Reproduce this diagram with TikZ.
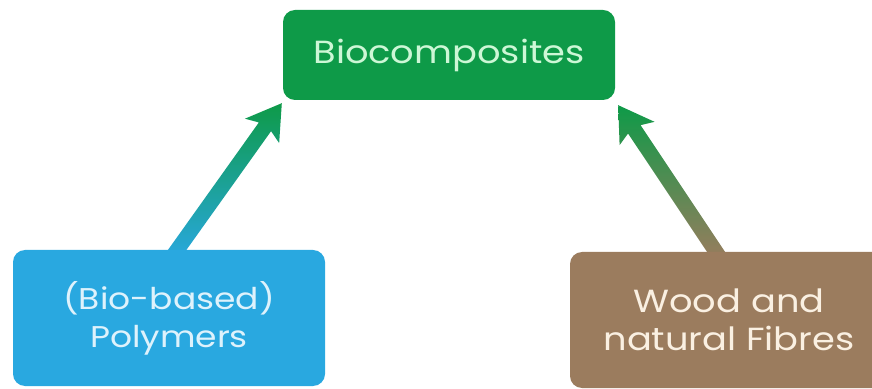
\documentclass[tikz,border=0pt]{standalone}
\usepackage{fontspec}
\setmainfont{Poppins}[FakeStretch=1.15]
\usetikzlibrary{calc}
\definecolor{greenc}{RGB}{14,154,72}
\definecolor{greentxt}{RGB}{205,247,214}
\definecolor{bluec}{RGB}{41,168,224}
\definecolor{bluetxt}{RGB}{222,242,252}
\definecolor{brownc}{RGB}{155,124,94}
\definecolor{browntxt}{RGB}{250,240,226}
\tikzset{
  box/.style={rounded corners=12pt, inner sep=0pt, align=center},
}
\newcommand{\fatarrow}[4]{% start, tip, bottom colour, top colour
  \shade[bottom color=#3, top color=#4]
    ($(#1)!7.5pt!-90:(#2)$) --
    ($($(#2)!29pt!(#1)$)!7.5pt!-90:(#2)$) --
    ($($(#2)!34pt!(#1)$)!21pt!-90:(#2)$) --
    (#2) --
    ($($(#2)!34pt!(#1)$)!21pt!90:(#2)$) --
    ($($(#2)!29pt!(#1)$)!7.5pt!90:(#2)$) --
    ($(#1)!7.5pt!90:(#2)$) -- cycle;
}
\begin{document}
\begin{tikzpicture}[x=1pt,y=1pt]
\useasboundingbox (0,0) rectangle (872,388);
\clip (0,0) rectangle (872,388);
\path[fill=white] (0,0) rectangle (872,388);
% nodes (placed first so they can be referenced)
\node[box, minimum width=332pt, minimum height=90pt] (bio) at (449,333) {};
\node[box, minimum width=312pt, minimum height=136pt] (poly) at (169,70) {};
\node[box, minimum width=318pt, minimum height=136pt] (wood) at (729,68) {};
% connector coordinates
\coordinate (s1) at ($(poly.north)+(4,-6)$);
\coordinate (t1) at ($(bio.south west)+(-1,-3)$);
\coordinate (s2) at ($(wood.north)+(-9,-6)$);
\coordinate (t2) at ($(bio.south east)+(3,-5)$);
\fatarrow{s1}{t1}{bluec}{greenc}
\fatarrow{s2}{t2}{brownc}{greenc}
% boxes
\node[box, fill=greenc, text=greentxt, minimum width=332pt, minimum height=90pt,
      font=\fontsize{32}{38}\selectfont] at (bio) {Biocomposites};
\node[box, fill=bluec, text=bluetxt, minimum width=312pt, minimum height=136pt,
      font=\fontsize{30}{38}\selectfont] at (poly) {(Bio-based)\\Polymers};
\node[box, fill=brownc, text=browntxt, minimum width=318pt, minimum height=136pt,
      font=\fontsize{32}{38}\selectfont] at (wood) {Wood and\\natural Fibres};
\end{tikzpicture}
\end{document}
